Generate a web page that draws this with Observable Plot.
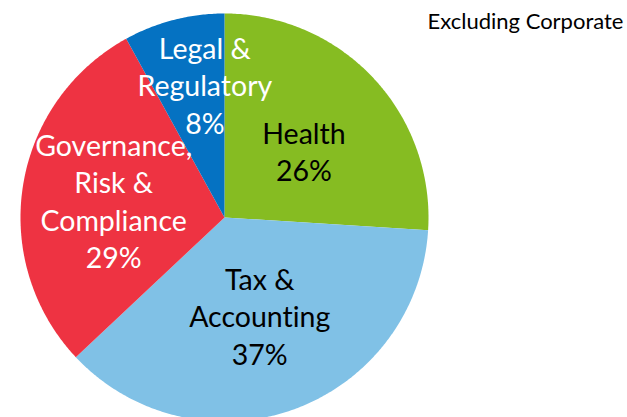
<!DOCTYPE html>
<html>
<head>
<meta charset="utf-8">
<script src="https://cdn.jsdelivr.net/npm/d3@7"></script>
<script src="https://cdn.jsdelivr.net/npm/@observablehq/plot@0.6"></script>
<style>
  html, body { margin: 0; padding: 0; background: #fff; }
  #chart svg { display: block; }
  #chart svg text { font-variant-ligatures: none; font-feature-settings: "liga" 0; }
</style>
</head>
<body>
<div id="chart"></div>
<script>
// ---- data ----
const segments = ["Health", "Tax & Accounting", "Governance, Risk & Compliance", "Legal & Regulatory"];
const shares = [26, 37, 29, 8];
const labels = ["Health\n26%", "Tax &\nAccounting\n37%", "Governance,\nRisk &\nCompliance\n29%", "Legal &\nRegulatory\n8%"];
const note = "Excluding Corporate";

// ---- styling / layout ----
const colors = ["#86BC22", "#80C1E6", "#EE3342", "#0572C2"];
const textColors = ["#000000", "#000000", "#ffffff", "#ffffff"];
const labelRadius = [0.51, 0.51, 0.55, 0.66];
const labelAngleShift = [3, 0, 0, 6];
const W = 627, H = 417, cx = 224, cy = 217, R = 204;

// ---- pie geometry computed from data ----
const total = d3.sum(shares);
let acc = 0;
const arcs = shares.map((v, i) => {
  const a0 = acc / total * 360;
  acc += v;
  const a1 = acc / total * 360;
  return {name: segments[i], a0, a1, i};
});
const toRad = a => a * Math.PI / 180;
const polyPoints = [];
for (const s of arcs) {
  polyPoints.push({name: s.name, x: 0, y: 0});
  const n = Math.max(2, Math.ceil((s.a1 - s.a0) / 0.5));
  for (let k = 0; k <= n; k++) {
    const a = toRad(s.a0 + (s.a1 - s.a0) * k / n);
    polyPoints.push({name: s.name, x: Math.sin(a), y: Math.cos(a)});
  }
  polyPoints.push({name: s.name, x: 0, y: 0});
}
const labelData = arcs.map((s, i) => {
  const a = toRad((s.a0 + s.a1) / 2 + labelAngleShift[i]);
  return {text: labels[i], x: labelRadius[i] * Math.sin(a), y: labelRadius[i] * Math.cos(a), color: textColors[i]};
});

const chart = Plot.plot({
  width: W,
  height: H,
  margin: 0,
  style: {fontFamily: "Lato, 'Open Sans', sans-serif", background: "#fff"},
  x: {domain: [-cx / R, (W - cx) / R], axis: null},
  y: {domain: [(cy - H) / R, cy / R], axis: null},
  color: {domain: segments, range: colors},
  marks: [
    Plot.line(polyPoints, {x: "x", y: "y", z: "name", fill: "name", stroke: "none", curve: "linear"}),
    Plot.text(labelData, {x: "x", y: "y", text: "text", fill: "color", fontSize: 28.5, lineHeight: 1.32, lineAnchor: "middle", textAnchor: "middle"}),
    Plot.text([note], {frameAnchor: "top-right", text: d => d, dx: -4, dy: 13, fontSize: 22, fill: "#000"})
  ]
});
document.getElementById("chart").append(chart);
</script>
</body>
</html>
